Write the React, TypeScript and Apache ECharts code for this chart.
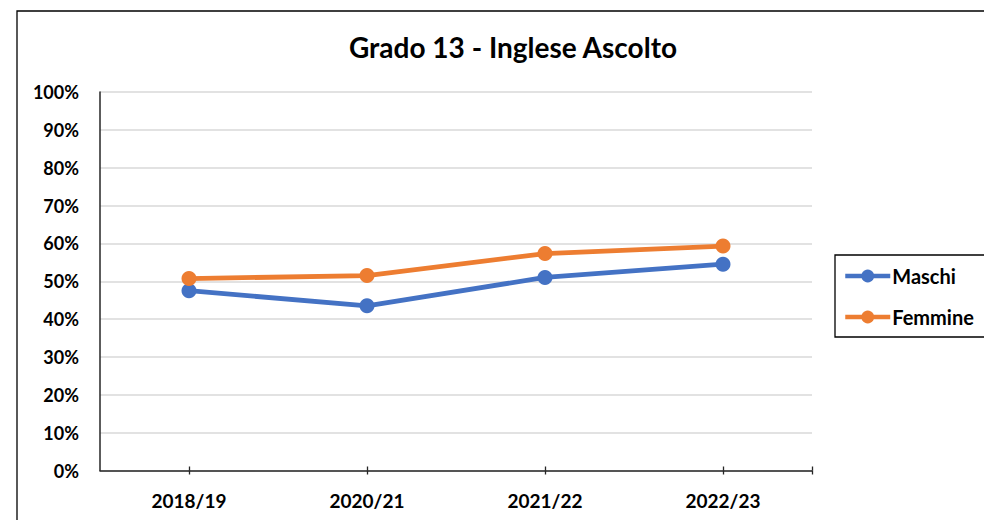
import React, { useEffect, useRef } from "react";
import * as echarts from "echarts";

const categories = ["2018/19", "2020/21", "2021/22", "2022/23"];
const maschi = [47.5, 43.5, 51.0, 54.5];
const femmine = [50.7, 51.5, 57.3, 59.3];
const titleText = "Grado 13 - Inglese Ascolto";
const seriesNames = ["Maschi", "Femmine"];
const seriesColors = ["#4472C4", "#ED7D31"];
const tickPositions = [1, 3, 5, 7, 8];

const FONT = "Lato";

export default function App() {
  const ref = useRef<HTMLDivElement>(null);
  useEffect(() => {
    if (!ref.current) return;
    const chart = echarts.init(ref.current, undefined, { renderer: "svg" });
    const tickAxis = (inside: boolean) => ({
      type: "value",
      position: "bottom",
      min: 0,
      max: 8,
      gridIndex: 0,
      axisLine: { show: false },
      axisLabel: { show: false },
      splitLine: { show: false },
      axisTick: {
        show: true,
        inside,
        length: 4,
        customValues: tickPositions,
        lineStyle: { color: "#262626", width: 1.3 },
      },
    });
    chart.setOption({
      animation: false,
      backgroundColor: "#ffffff",
      title: {
        text: titleText,
        left: 508,
        top: 28,
        textAlign: "center",
        textStyle: { fontFamily: FONT, fontWeight: "bold", fontSize: 28, color: "#000" },
      },
      graphic: [
        {
          type: "rect",
          shape: { x: 17, y: 11, width: 1100, height: 700 },
          style: { fill: "none", stroke: "#000", lineWidth: 1.3 },
          z: 100,
        },
        {
          type: "rect",
          shape: { x: 835, y: 255, width: 300, height: 82 },
          style: { fill: "none", stroke: "#000", lineWidth: 1.3 },
          z: 100,
        },
      ],
      legend: {
        orient: "vertical",
        left: 843,
        top: 266,
        itemWidth: 45,
        itemHeight: 16,
        itemGap: 21,
        padding: 0,
        data: seriesNames.map((name, i) => ({
          name,
          lineStyle: { color: seriesColors[i], width: 4.5 },
          itemStyle: { color: seriesColors[i] },
        })),
        textStyle: { fontFamily: FONT, fontWeight: "bold", fontSize: 20, color: "#000", padding: [0, 0, 0, -3] },
      },
      grid: { left: 100, right: 172, top: 92, bottom: 49.5, containLabel: false },
      xAxis: [
        {
          type: "category",
          data: categories,
          boundaryGap: true,
          axisLine: { show: true, lineStyle: { color: "#262626", width: 1.5 } },
          axisTick: { show: false },
          axisLabel: { fontFamily: FONT, fontWeight: "bold", fontSize: 19, color: "#000", margin: 20 },
          splitLine: { show: false },
        },
        tickAxis(true),
        tickAxis(false),
      ],
      yAxis: {
        type: "value",
        min: 0,
        max: 100,
        interval: 10,
        axisLine: { show: true, lineStyle: { color: "#262626", width: 1.5 } },
        axisTick: { show: false },
        axisLabel: {
          formatter: "{value}%",
          fontFamily: FONT,
          fontWeight: "bold",
          fontSize: 18,
          color: "#000",
          margin: 21,
        },
        splitLine: { show: true, lineStyle: { color: "#d9d9d9", width: 1.5 } },
      },
      series: seriesNames.map((name, i) => ({
        name,
        type: "line",
        data: i === 0 ? maschi : femmine,
        xAxisIndex: 0,
        symbol: "circle",
        symbolSize: 15,
        lineStyle: { color: seriesColors[i], width: 4.8 },
        itemStyle: { color: seriesColors[i] },
        z: 3 + i,
      })),
    });
    return () => chart.dispose();
  }, []);
  return (
    <div
      ref={ref}
      style={{ position: "fixed", left: 0, top: 0, width: 984, height: 520, background: "#fff" }}
    />
  );
}
